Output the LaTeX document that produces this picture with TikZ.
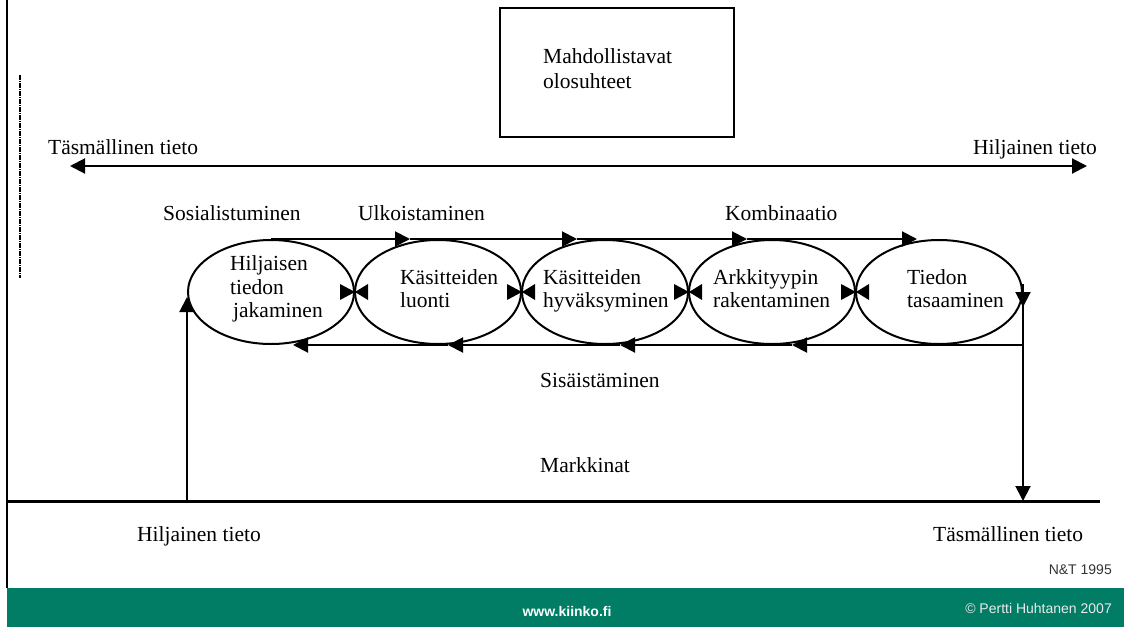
\documentclass[tikz,border=0pt]{standalone}
\usepackage{fontspec}
\setmainfont{Liberation Serif}
\newfontfamily\arialfont{Liberation Sans}
\usetikzlibrary{arrows.meta,calc,shapes.geometric}
\definecolor{kgreen}{RGB}{0,125,100}
\begin{document}
\begin{tikzpicture}[x=1pt,y=-1pt,
  >={Triangle[length=15pt,width=15pt]},
  ln/.style={line width=2pt},
  ell/.style={draw,ellipse,line width=2pt,minimum width=166pt,minimum height=104pt,inner sep=0pt},
  lbl/.style={font=\fontsize{21.5}{23}\selectfont,anchor=base west,inner sep=0pt},
  sml/.style={font=\arialfont\fontsize{14}{16}\selectfont,inner sep=0pt}]
\useasboundingbox (0,0) rectangle (1124,627);
% frame and footer
\fill[kgreen] (7,588) rectangle (1124,627);
\coordinate (lt) at (7,0);
\coordinate (lb) at (7,588);
\draw[line width=1.5pt] (lt) -- (lb);
\coordinate (dt) at (20,75);
\coordinate (db) at (20,278);
\draw[line width=1.6pt,dash pattern=on 5pt off 1pt on 1pt off 1pt] (dt) -- (db);
% box
\node[draw,line width=2pt,minimum width=234pt,minimum height=129pt,inner sep=0pt] (box) at (617,72.5) {};
\node[lbl] (m1) at (543,63) {Mahdollistavat};
\node[lbl] (m2) at (543,88) {olosuhteet};
% double arrow
\coordinate (aL) at (70,166);
\coordinate (aR) at (1087,166);
\draw[ln,<->] (aL) -- (aR);
\node[lbl] (tl) at (48,154) {Täsmällinen tieto};
\node[lbl,anchor=base east] (tr) at (1097,154) {Hiljainen tieto};
% labels
\node[lbl] (soc) at (163,220) {Sosialistuminen};
\node[lbl] (ulk) at (358,220) {Ulkoistaminen};
\node[lbl] (kom) at (725,220) {Kombinaatio};
\node[lbl] (sis) at (540,387) {Sisäistäminen};
\node[lbl] (mar) at (540,472) {Markkinat};
% ellipses
\node[ell] (e1) at (271,292) {};
\node[ell] (e2) at (438,292) {};
\node[ell] (e3) at (605,292) {};
\node[ell] (e4) at (772,292) {};
\node[ell] (e5) at (939,292) {};
\node[lbl] (t1a) at (230,270) {Hiljaisen};
\node[lbl] (t1b) at (230,294) {tiedon};
\node[lbl] (t1c) at (233,317) {jakaminen};
\node[lbl] (t2a) at (400,284) {Käsitteiden};
\node[lbl] (t2b) at (400,307) {luonti};
\node[lbl] (t3a) at (543,284) {Käsitteiden};
\node[lbl] (t3b) at (543,307) {hyväksyminen};
\node[lbl] (t4a) at (713,284) {Arkkityypin};
\node[lbl] (t4b) at (713,307) {rakentaminen};
\node[lbl] (t5a) at (907,284) {Tiedon};
\node[lbl] (t5b) at (907,307) {tasaaminen};
% top line
\draw[ln,->] (e1.north) -- ($(e2.north)+(-28,0)$);
\draw[ln,->] ($(e2.north)+(-28,0)$) -- ($(e3.north)+(-28,0)$);
\draw[ln,->] ($(e3.north)+(-28,0)$) -- ($(e4.north)+(-25,0)$);
\draw[ln,->] ($(e4.north)+(-25,0)$) -- ($(e5.north)+(-22,0)$);
% bottom line
\coordinate (br5) at (e5.east |- e5.south);
\draw[ln,->] (br5) -- ($(e4.south)+(20,0)$);
\draw[ln,->] ($(e4.south)+(20,0)$) -- ($(e3.south)+(15,0)$);
\draw[ln,->] ($(e3.south)+(15,0)$) -- ($(e2.south)+(10,0)$);
\draw[ln,->] ($(e2.south)+(10,0)$) -- ($(e1.south)+(22,0)$);
% junction bow-ties
\foreach \i in {1,2,3,4}{
  \fill ($(e\i.east)+(-15,-8)$) -- ($(e\i.east)+(-15,8)$) -- (e\i.east) -- cycle;
  \fill ($(e\i.east)+(13,-8)$) -- ($(e\i.east)+(13,8)$) -- (e\i.east) -- cycle;
}
% baseline
\coordinate (bl) at (7,501);
\coordinate (br) at (1100,501);
\draw[line width=3pt] (bl) -- (br);
% verticals
\draw[ln,->] (e5.east) -- (e5.east |- bl);
\draw[ln,->] ($(e5.east)+(0,-8)$) -- ($(e5.east)+(0,15)$);
\draw[ln,->] (e1.west |- bl) -- ($(e1.west)+(0,5)$);
% bottom labels
\node[lbl] (hb) at (137,541) {Hiljainen tieto};
\node[lbl] (tb) at (933,541) {Täsmällinen tieto};
\node[sml,anchor=base east,text=black!80] (nt) at (1112,574) {N\&T 1995};
\node[sml,font=\arialfont\bfseries\fontsize{14}{16}\selectfont,text=white] (www) at (567,611) {www.kiinko.fi};
\node[sml,anchor=east,text=black!8] (cp) at (1112,608) {© Pertti Huhtanen 2007};
\end{tikzpicture}
\end{document}
